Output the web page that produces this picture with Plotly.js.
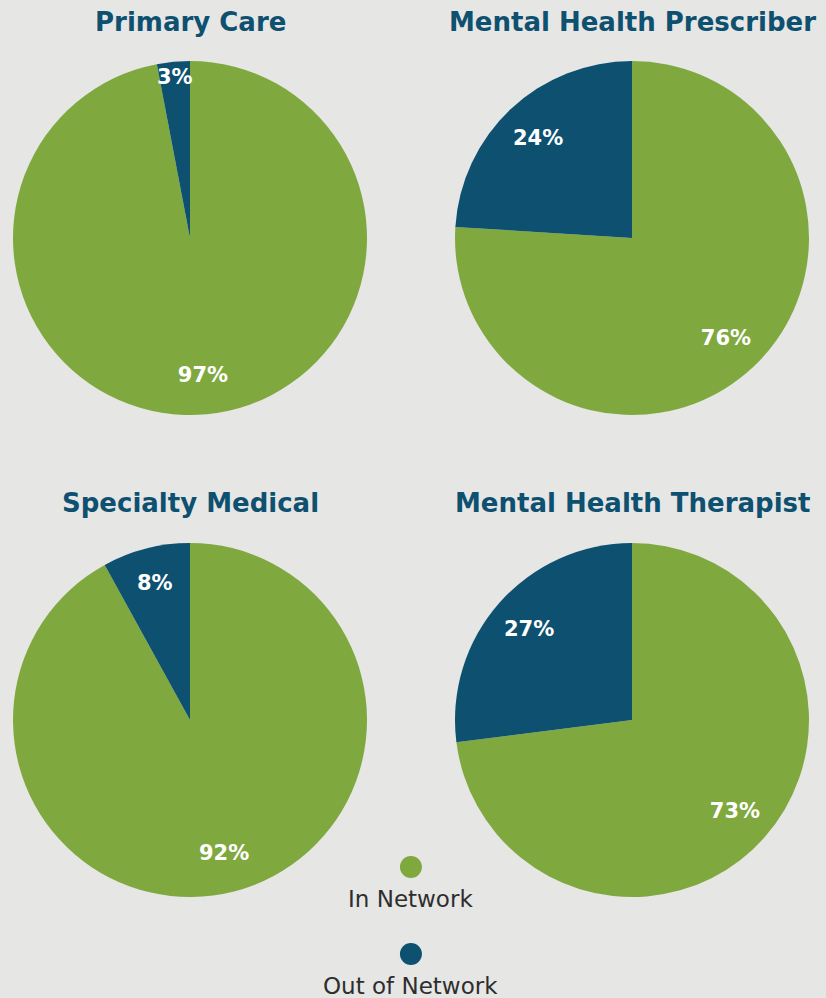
<!DOCTYPE html>
<html><head><meta charset="utf-8">
<script src="https://cdn.plot.ly/plotly-3.0.1.min.js"></script>
<style>html,body{margin:0;padding:0;background:#e6e6e5;}#chart{width:826px;height:998px;}</style>
</head><body><div id="chart"></div>
<script>
const charts = ["Primary Care", "Mental Health Prescriber", "Specialty Medical", "Mental Health Therapist"];
const categories = ["In Network", "Out of Network"];
const inNetwork = [97, 76, 92, 73];
const outNetwork = [3, 24, 8, 27];
const colors = ["#7fa93f", "#0e5070"];

const W = 826, H = 998;
const centers = [[190, 238], [632, 238], [190, 720], [632, 720]];
const R = 177;
const traces = [];
const annotations = [];
charts.forEach((name, i) => {
  const [cx, cy] = centers[i];
  const domain = {x: [(cx - R) / W, (cx + R) / W], y: [1 - (cy + R) / H, 1 - (cy - R) / H]};
  traces.push({
    type: "pie",
    labels: categories,
    values: [inNetwork[i], outNetwork[i]],
    sort: false, direction: "clockwise", rotation: 0,
    marker: {colors: colors, line: {width: 0}},
    textinfo: "none",
    hoverinfo: "label+value",
    showlegend: false,
    domain: domain
  });
  // label layer: transparent ring so that the labels sit near the outer part of each slice
  traces.push({
    type: "pie",
    labels: categories,
    values: [inNetwork[i], outNetwork[i]],
    sort: false, direction: "clockwise", rotation: 0,
    hole: 0.55,
    marker: {colors: ["rgba(0,0,0,0)", "rgba(0,0,0,0)"], line: {width: 0}},
    texttemplate: "%{value}%",
    textposition: "inside",
    insidetextorientation: "horizontal",
    textfont: {color: "#ffffff", size: 21, family: "DejaVu Sans", weight: 700},
    hoverinfo: "skip",
    showlegend: false,
    domain: domain
  });
  annotations.push({
    text: name, xref: "paper", yref: "paper", showarrow: false,
    x: cx / W, y: 1 - (i < 2 ? 22 : 503) / H, xanchor: "center", yanchor: "middle",
    font: {family: "DejaVu Sans", size: 26, color: "#0e5070", weight: 700}
  });
});

const legendY = [1, 0];
traces.push({
  type: "scatter", mode: "markers",
  x: [0, 0], y: legendY,
  marker: {size: 22, color: colors},
  hoverinfo: "skip", showlegend: false, cliponaxis: false,
  xaxis: "x", yaxis: "y"
});
categories.forEach((c, k) => {
  annotations.push({
    text: c, xref: "x", yref: "y", x: 0, y: legendY[k], yshift: -32,
    showarrow: false, xanchor: "center", yanchor: "middle",
    font: {family: "DejaVu Sans", size: 23, color: "#2e2e2e"}
  });
});

const layout = {
  width: W, height: H,
  margin: {l: 0, r: 0, t: 0, b: 0},
  paper_bgcolor: "#e6e6e5", plot_bgcolor: "rgba(0,0,0,0)",
  showlegend: false,
  uniformtext: {minsize: 21, mode: "show"},
  xaxis: {domain: [0.395, 0.6], range: [-1, 1], visible: false, fixedrange: true},
  yaxis: {domain: [0, 0.2], range: [-0.506, 1.788], visible: false, fixedrange: true},
  annotations: annotations
};
Plotly.newPlot("chart", traces, layout, {displayModeBar: false, staticPlot: true});
</script></body></html>
